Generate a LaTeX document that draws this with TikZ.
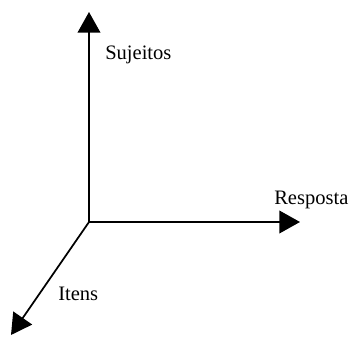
\documentclass[tikz,border=0pt]{standalone}
\usepackage{fontspec}
\setmainfont{Liberation Serif}
\usetikzlibrary{arrows.meta}
\tikzset{
  axisline/.style={-{Triangle[length=15.5pt,width=17pt]},line width=1.3pt,draw=black},
  axislabel/.style={anchor=base west,inner sep=0pt,font=\fontsize{15.4}{18}\selectfont}
}
\begin{document}
\begin{tikzpicture}[x=0.75pt,y=0.75pt]
\useasboundingbox (0,0) rectangle (351,337);
\coordinate (origin) at (89,115);
\coordinate (sujtip) at (89,325);
\coordinate (restip) at (300,115);
\coordinate (itetip) at (11,2);

\node[axislabel] (suj) at (105,278) {Sujeitos};
\node[axislabel] (res) at (274,133) {Resposta};
\node[axislabel] (ite) at (58,37) {Itens};

\draw[axisline] (origin) -- (sujtip);
\draw[axisline] (origin) -- (restip);
\draw[axisline] (origin) -- (itetip);
\end{tikzpicture}
\end{document}
